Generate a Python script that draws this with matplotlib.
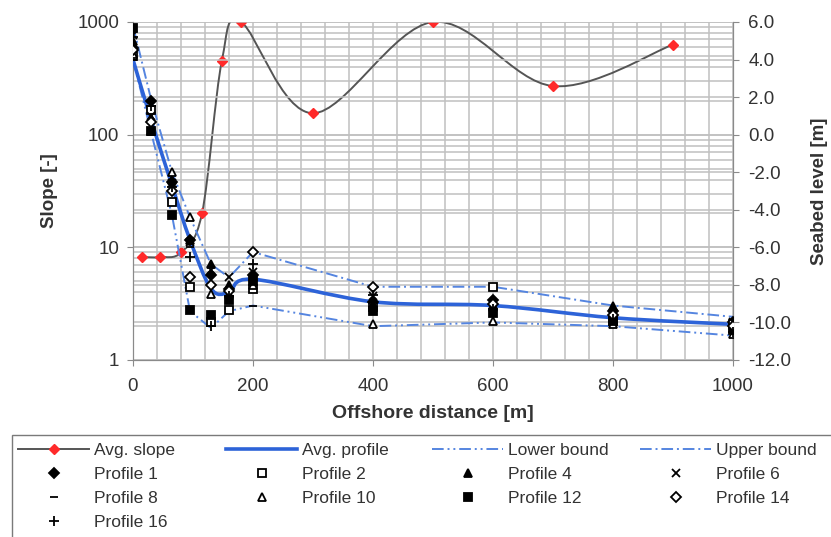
import numpy as np
import matplotlib
matplotlib.use("Agg")
import matplotlib.pyplot as plt
from matplotlib.path import Path
from matplotlib.patches import PathPatch, Rectangle
from matplotlib.lines import Line2D
from matplotlib.ticker import FixedLocator, FuncFormatter, MultipleLocator, LogLocator, NullFormatter

plt.rcParams["font.family"] = ["Liberation Sans", "DejaVu Sans"]

# Avg. slope (left, log axis)
SLOPE_X = [15, 45, 80, 115, 148, 180, 300, 500, 700, 900]
SLOPE_Y = [8.2, 8.2, 9.0, 20, 450, 1000, 155, 1000, 270, 630]

# Seabed levels (right axis, m)
DIST = [0, 30, 65, 95, 130, 160, 200, 400, 600, 800, 1000]
AVG_PROFILE = [4.0, 0.8, -2.7, -5.6, -8.2, -8.4, -7.7, -8.9, -9.1, -9.75, -10.1]
UPPER_BOUND = [5.8, 1.9, -2.0, -4.4, -6.9, -7.6, -6.25, -8.1, -8.1, -9.1, -9.7]
LOWER_BOUND = [4.0, 0.15, -4.3, -9.4, -10.3, -9.4, -9.1, -10.2, -10.0, -10.2, -10.7]

PROFILE_1 = [4.6, 1.8, -2.5, -5.6, -7.5, -8.2, -7.5, -8.9, -8.8, -9.4, -10.0]
PROFILE_2 = [4.2, 1.3, -3.6, -8.1, -10.0, -9.35, -8.2, -9.2, -8.1, -9.9, -10.1]
PROFILE_4 = [5.0, 0.9, -2.4, -5.6, -6.9, -8.0, -7.6, -9.0, -9.2, -9.1, -10.2]
PROFILE_6 = [5.3, 1.0, -2.6, -5.7, -7.2, -7.6, -7.3, -8.6, -9.0, -9.6, -10.0]
PROFILE_8 = [4.0, 0.6, -3.0, -6.0, -8.0, -8.8, -9.1, -9.4, -9.5, -9.9, -10.4]
PROFILE_10 = [4.3, 0.2, -2.0, -4.4, -8.5, -8.5, -8.0, -10.1, -9.9, -10.1, -10.6]
PROFILE_12 = [5.7, 0.2, -4.3, -9.35, -9.6, -8.8, -7.8, -9.4, -9.5, -9.9, -10.4]
PROFILE_14 = [4.5, 0.7, -3.0, -7.6, -8.0, -8.3, -6.25, -8.1, -9.0, -9.6, -10.2]
PROFILE_16 = [5.2, 1.5, -2.8, -6.5, -10.2, -8.6, -6.9, -8.55, -9.3, -9.8, -10.5]

X_TICKS = [0, 200, 400, 600, 800, 1000]
SLOPE_TICKS = [1, 10, 100, 1000]
LEVEL_TICKS = [6, 4, 2, 0, -2, -4, -6, -8, -10, -12]

GRID = "#c0c0c0"
SPINE = "#8a8a8a"
TEXT = "#333333"
BLUE = "#2d63d8"
BOUND_BLUE = "#5585e0"
W, H = 831, 537

# (label, values, marker, filled, size)
PROFILES = [
    ("Profile 1", PROFILE_1, "D", True, 5),
    ("Profile 2", PROFILE_2, "s", False, 5.5),
    ("Profile 4", PROFILE_4, "^", True, 6),
    ("Profile 6", PROFILE_6, "x", True, 6),
    ("Profile 8", PROFILE_8, "_", True, 6),
    ("Profile 10", PROFILE_10, "^", False, 6),
    ("Profile 12", PROFILE_12, "s", True, 6),
    ("Profile 14", PROFILE_14, "D", False, 5),
    ("Profile 16", PROFILE_16, "+", True, 7),
]


def smooth_path(xs, ys, log=False):
    # Excel-like smoothed line: Catmull-Rom segments as cubic Beziers.
    pts = np.column_stack([np.asarray(xs, float),
                           np.log10(ys) if log else np.asarray(ys, float)])
    verts, codes = [pts[0]], [Path.MOVETO]
    n = len(pts)
    for i in range(n - 1):
        p0, p1 = pts[max(i - 1, 0)], pts[i]
        p2, p3 = pts[i + 1], pts[min(i + 2, n - 1)]
        verts += [p1 + (p2 - p0) / 6, p2 - (p3 - p1) / 6, p2]
        codes += [Path.CURVE4] * 3
    verts = np.array(verts)
    if log:
        verts[:, 1] = 10 ** verts[:, 1]
    return Path(verts, codes)


fig = plt.figure(figsize=(W / 100, H / 100), dpi=100)
ax = fig.add_axes([133 / W, 1 - 360 / H, 600 / W, 338 / H])
ax2 = ax.twinx()

# left log axis
ax.set_xlim(0, 1000)
ax.set_yscale("log")
ax.set_ylim(1, 1000)
ax.xaxis.set_major_locator(FixedLocator(X_TICKS))
ax.xaxis.set_minor_locator(MultipleLocator(40))
ax.yaxis.set_major_locator(FixedLocator(SLOPE_TICKS))
ax.yaxis.set_major_formatter(FuncFormatter(lambda v, _p: f"{v:g}"))
ax.yaxis.set_minor_locator(LogLocator(base=10, subs=range(2, 10)))
ax.yaxis.set_minor_formatter(NullFormatter())
ax.grid(True, which="both", color=GRID, linewidth=1.1)
ax.set_axisbelow(True)

# right linear axis
ax2.set_ylim(-12, 6)
ax2.yaxis.set_major_locator(FixedLocator(LEVEL_TICKS))
ax2.yaxis.set_major_formatter(FuncFormatter(lambda v, _p: f"{v:.1f}"))
ax2.grid(True, axis="y", color=GRID, linewidth=1.1)
ax2.set_axisbelow(True)

for a in (ax, ax2):
    for side in a.spines:
        a.spines[side].set_color(SPINE)
    a.spines["top"].set_visible(False)
ax.tick_params(which="major", direction="out", length=4, color=SPINE,
               labelsize=13.5, labelcolor=TEXT, pad=6)
ax.tick_params(axis="x", pad=9)
ax.tick_params(which="minor", length=0)
ax2.tick_params(which="major", direction="out", length=4, color=SPINE,
                labelsize=13.5, labelcolor=TEXT, pad=7)

# avg slope
ax.add_patch(PathPatch(smooth_path(SLOPE_X, SLOPE_Y, log=True), fill=False,
                       edgecolor="#555555", linewidth=1.4, zorder=3))
ax.plot(SLOPE_X, SLOPE_Y, ls="none", marker="D", markersize=5,
        color="#ff2a2a", zorder=4)

# bounds and average profile
ax2.plot(DIST, LOWER_BOUND, color=BOUND_BLUE, linewidth=1.4,
         dashes=(6, 2, 1, 2, 1, 2), zorder=3)
ax2.plot(DIST, UPPER_BOUND, color=BOUND_BLUE, linewidth=1.4,
         dashes=(6, 2, 1, 2), zorder=3)
ax2.add_patch(PathPatch(smooth_path(DIST, AVG_PROFILE), fill=False,
                        edgecolor=BLUE, linewidth=2.6, zorder=4))

for label, vals, mk, filled, ms in PROFILES:
    ax2.plot(DIST, vals, ls="none", marker=mk, markersize=ms,
             markerfacecolor="black" if filled else "white",
             markeredgecolor="black", markeredgewidth=1.3, zorder=5)

ax.set_xlabel("Offshore distance [m]", fontsize=14, fontweight="bold",
              color=TEXT, labelpad=7)
ax.set_ylabel("Slope [-]", fontsize=13.5, fontweight="bold", color=TEXT,
              labelpad=14)
ax2.set_ylabel("Seabed level [m]", fontsize=13.5, fontweight="bold",
               color=TEXT, labelpad=14)

# legend: Excel-style fixed-width grid, rows filled left to right
h = {
    "Avg. slope": Line2D([], [], color="#555555", lw=1.4, marker="D",
                         markersize=5, markerfacecolor="#ff2a2a",
                         markeredgecolor="#ff2a2a"),
    "Avg. profile": Line2D([], [], color=BLUE, lw=2.6),
    "Lower bound": Line2D([], [], color=BOUND_BLUE, lw=1.4,
                          dashes=(6, 2, 1, 2, 1, 2)),
    "Upper bound": Line2D([], [], color=BOUND_BLUE, lw=1.4, dashes=(6, 2, 1, 2)),
}
for label, _vals, mk, filled, ms in PROFILES:
    h[label] = Line2D([], [], ls="none", marker=mk, markersize=ms,
                      markerfacecolor="black" if filled else "white",
                      markeredgecolor="black", markeredgewidth=1.3)
cols = [
    ["Avg. slope", "Profile 1", "Profile 8", "Profile 16"],
    ["Avg. profile", "Profile 2", "Profile 10"],
    ["Lower bound", "Profile 4", "Profile 12"],
    ["Upper bound", "Profile 6", "Profile 14"],
]
col_x = [18, 226, 432, 640]
for x0, col in zip(col_x, cols):
    leg = fig.legend([h[k] for k in col], col, loc="upper left",
                     bbox_to_anchor=(x0 / W, 1 - 443 / H), borderaxespad=0,
                     borderpad=0, fontsize=12.5, handlelength=4.1,
                     handletextpad=0.3, labelspacing=0.5, frameon=False)
    for t in leg.get_texts():
        t.set_color(TEXT)
fig.patches.append(Rectangle((12 / W, -0.02), 1.1, 1.02 - 435 / H,
                             transform=fig.transFigure, fill=False,
                             edgecolor="#7a7a7a", linewidth=1.0))

fig.savefig("out.png", dpi=100)
